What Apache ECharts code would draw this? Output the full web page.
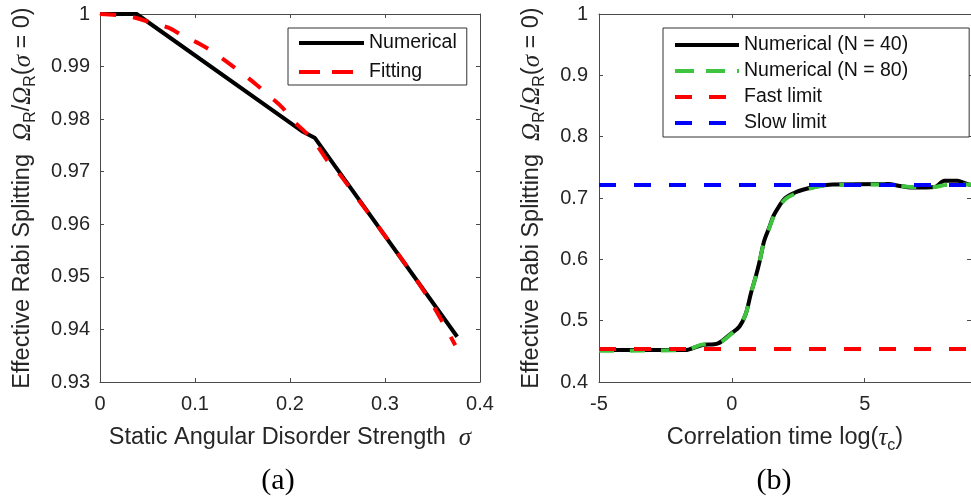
<!DOCTYPE html>
<html>
<head>
<meta charset="utf-8">
<script src="https://cdn.jsdelivr.net/npm/echarts@6/dist/echarts.min.js"></script>
<style>
  html, body { margin: 0; padding: 0; background: #ffffff; }
  #chart { width: 971px; height: 499px; }
</style>
</head>
<body>
<div id="chart"></div>
<script>
// ---- Panel (a): effective Rabi splitting vs static angular disorder ----
const sigmaNumerical = [0, 0.0385, 0.2137, 0.2263, 0.376];
const ratioNumerical = [1.0, 1.0, 0.9776, 0.9764, 0.9386];

const sigmaFitting = [0, 0.018, 0.037, 0.055, 0.072, 0.087, 0.105, 0.119, 0.135, 0.149, 0.165,
                      0.177, 0.192, 0.202, 0.217, 0.228, 0.239, 0.251, 0.274, 0.316, 0.347, 0.374];
const ratioFitting = [1.0, 0.9998, 0.9993, 0.9983, 0.9974, 0.9959, 0.9943, 0.9928, 0.9907, 0.9888, 0.9865,
                      0.9846, 0.9822, 0.9799, 0.9774, 0.9751, 0.9722, 0.9698, 0.9642, 0.9538, 0.9456, 0.9370];

const sigmaTicks = [0, 0.1, 0.2, 0.3, 0.4];
const ratioTicksA = [0.93, 0.94, 0.95, 0.96, 0.97, 0.98, 0.99, 1];

// ---- Panel (b): effective Rabi splitting vs correlation time ----
const logTau40 = [-5, -1.75, -1.14, -0.52, -0.03, 0.28, 0.53, 0.72, 0.9, 1.03, 1.21, 1.40, 1.58, 1.77,
                  2.01, 2.38, 2.81, 3.31, 3.8, 5.9, 6.27, 6.77, 7.63, 8.0, 8.49, 8.78, 9.0];
const ratio40 = [0.452, 0.452, 0.460, 0.463, 0.479, 0.490, 0.512, 0.545, 0.572, 0.594, 0.629, 0.651, 0.672, 0.686,
                 0.700, 0.709, 0.715, 0.720, 0.722, 0.723, 0.720, 0.717, 0.718, 0.728, 0.728, 0.724, 0.721];

const logTau80 = [-5, -1.75, -1.14, -0.52, -0.03, 0.28, 0.53, 0.72, 0.9, 1.03, 1.21, 1.40, 1.58, 1.77,
                  2.01, 2.38, 2.81, 3.31, 3.8, 5.9, 6.27, 6.77, 7.63, 8.0, 8.49, 8.78, 9.0];
const ratio80 = [0.451, 0.452, 0.461, 0.463, 0.478, 0.490, 0.512, 0.545, 0.572, 0.594, 0.628, 0.650, 0.671, 0.685,
                 0.698, 0.707, 0.714, 0.719, 0.721, 0.722, 0.720, 0.718, 0.718, 0.721, 0.722, 0.722, 0.722];

const fastLimit = 0.454;
const slowLimit = 0.721;
const logTauRange = [-5, 9];

const logTauTicks = [-5, 0, 5];
const ratioTicksB = [0.4, 0.5, 0.6, 0.7, 0.8, 0.9, 1];

// ---- styling ----
const SANS = "'Liberation Sans', Arial, Helvetica, sans-serif";
const SERIF = "'Liberation Serif', 'Times New Roman', serif";
const AXIS_COLOR = '#4a4a4a';
const TEXT_COLOR = '#262626';

const zip = (xs, ys) => xs.map((x, i) => [x, ys[i]]);

const nameRich = {
  om: { fontFamily: SERIF, fontStyle: 'italic', fontSize: 25, color: TEXT_COLOR },
  it: { fontFamily: SERIF, fontStyle: 'italic', fontSize: 25, color: TEXT_COLOR },
  sub: { fontFamily: SANS, fontSize: 16, color: TEXT_COLOR, padding: [16, 0, 0, 0] }
};

const nameStyle = {
  fontFamily: SANS, fontSize: 23.5, color: TEXT_COLOR, lineHeight: 30, rich: nameRich
};

function tickFormatter(decimals) {
  return v => String(+v.toFixed(decimals));
}

function mainAxis(opts) {
  return Object.assign({
    type: 'value',
    axisLine: { show: true, onZero: false, lineStyle: { color: AXIS_COLOR, width: 1 } },
    axisTick: { show: true, inside: true, length: 4, lineStyle: { color: AXIS_COLOR, width: 1 } },
    splitLine: { show: false },
    axisLabel: { color: TEXT_COLOR, fontSize: 20, fontFamily: SANS, margin: 10 },
    nameLocation: 'middle',
    nameTextStyle: nameStyle
  }, opts);
}

function mirrorAxis(opts) {
  return Object.assign({
    type: 'value',
    axisLine: { show: true, onZero: false, lineStyle: { color: AXIS_COLOR, width: 1 } },
    axisTick: { show: true, inside: true, length: 4, lineStyle: { color: AXIS_COLOR, width: 1 } },
    splitLine: { show: false },
    axisLabel: { show: false }
  }, opts);
}

const xA = { min: sigmaTicks[0], max: sigmaTicks[sigmaTicks.length - 1], interval: sigmaTicks[1] - sigmaTicks[0] };
const yA = { min: ratioTicksA[0], max: ratioTicksA[ratioTicksA.length - 1], interval: 0.01 };
const xB = { min: logTauRange[0], max: logTauRange[1], interval: logTauTicks[1] - logTauTicks[0] };
const yB = { min: ratioTicksB[0], max: ratioTicksB[ratioTicksB.length - 1], interval: 0.1 };

// legend icons are plain line samples, no marker in the middle
const hiddenMarker = { color: 'rgba(0,0,0,0)', borderWidth: 0, opacity: 0 };

const option = {
  animation: false,
  backgroundColor: '#ffffff',
  grid: [
    { left: 100, right: 491, top: 14, bottom: 117 },
    { left: 599, right: -6, top: 14, bottom: 117 }
  ],
  xAxis: [
    mainAxis(Object.assign({
      gridIndex: 0, position: 'bottom',
      name: 'Static Angular Disorder Strength  {it|σ}', nameGap: 41,
      axisLabel: { color: TEXT_COLOR, fontSize: 20, fontFamily: SANS, margin: 12, formatter: tickFormatter(1) }
    }, xA)),
    mirrorAxis(Object.assign({ gridIndex: 0, position: 'top' }, xA)),
    mainAxis(Object.assign({
      gridIndex: 1, position: 'bottom',
      name: 'Correlation time log({it|τ}{sub|c})', nameGap: 41,
      axisLabel: { color: TEXT_COLOR, fontSize: 20, fontFamily: SANS, margin: 12, showMaxLabel: false, formatter: tickFormatter(0) }
    }, xB)),
    mirrorAxis(Object.assign({ gridIndex: 1, position: 'top' }, xB))
  ],
  yAxis: [
    mainAxis(Object.assign({
      gridIndex: 0, position: 'left',
      name: 'Effective Rabi Splitting  {om|Ω}{sub|R}/{om|Ω}{sub|R}({it|σ} = 0)', nameGap: 62, nameRotate: 90,
      axisLabel: { color: TEXT_COLOR, fontSize: 20, fontFamily: SANS, margin: 10, formatter: tickFormatter(2) }
    }, yA)),
    mirrorAxis(Object.assign({ gridIndex: 0, position: 'right' }, yA)),
    mainAxis(Object.assign({
      gridIndex: 1, position: 'left',
      name: 'Effective Rabi Splitting  {om|Ω}{sub|R}/{om|Ω}{sub|R}({it|σ} = 0)', nameGap: 52, nameRotate: 90,
      axisLabel: { color: TEXT_COLOR, fontSize: 20, fontFamily: SANS, margin: 11, formatter: tickFormatter(1) }
    }, yB)),
    mirrorAxis(Object.assign({ gridIndex: 1, position: 'right' }, yB))
  ],
  legend: [
    {
      orient: 'vertical', left: 288, top: 28,
      itemWidth: 65, itemHeight: 20, itemGap: 9,
      padding: [5, 10, 3, 9],
      backgroundColor: '#ffffff', borderColor: '#333333', borderWidth: 1, borderRadius: 0,
      selectedMode: false,
      textStyle: { fontFamily: SANS, fontSize: 19.5, color: '#111111', lineHeight: 20 },
      itemStyle: hiddenMarker,
      lineStyle: { width: 4 },
      data: [
        { name: 'Numerical', itemStyle: hiddenMarker, lineStyle: { width: 4, type: 'solid' } },
        { name: 'Fitting', itemStyle: hiddenMarker, lineStyle: { width: 4, type: [21, 12] } }
      ]
    },
    {
      orient: 'vertical', left: 663, top: 28,
      itemWidth: 64, itemHeight: 20, itemGap: 6,
      padding: [7, 61, 4, 10],
      backgroundColor: '#ffffff', borderColor: '#333333', borderWidth: 1, borderRadius: 0,
      selectedMode: false,
      textStyle: { fontFamily: SANS, fontSize: 19.5, color: '#111111', lineHeight: 20 },
      itemStyle: hiddenMarker,
      lineStyle: { width: 4 },
      data: [
        { name: 'Numerical (N = 40)', itemStyle: hiddenMarker, lineStyle: { width: 4, type: 'solid' } },
        { name: 'Numerical (N = 80)', itemStyle: hiddenMarker, lineStyle: { width: 4, type: [19, 12] } },
        { name: 'Fast limit', itemStyle: hiddenMarker, lineStyle: { width: 4, type: [17, 17] } },
        { name: 'Slow limit', itemStyle: hiddenMarker, lineStyle: { width: 4, type: [17, 17] } }
      ]
    }
  ],
  series: [
    {
      name: 'Numerical', type: 'line', xAxisIndex: 0, yAxisIndex: 0,
      data: zip(sigmaNumerical, ratioNumerical), symbol: 'none', color: '#000000',
      lineStyle: { color: '#000000', width: 4 }, z: 2
    },
    {
      name: 'Fitting', type: 'line', xAxisIndex: 0, yAxisIndex: 0,
      data: zip(sigmaFitting, ratioFitting), symbol: 'none', smooth: 0.3, color: '#ff0000',
      lineStyle: { color: '#ff0000', width: 4, type: [16, 17] }, z: 3
    },
    {
      name: 'Numerical (N = 40)', type: 'line', xAxisIndex: 2, yAxisIndex: 2,
      data: zip(logTau40, ratio40), symbol: 'none', smooth: 0.3, color: '#000000',
      lineStyle: { color: '#000000', width: 4 }, z: 2
    },
    {
      name: 'Numerical (N = 80)', type: 'line', xAxisIndex: 2, yAxisIndex: 2,
      data: zip(logTau80, ratio80), symbol: 'none', smooth: 0.3, color: '#3ec43e',
      lineStyle: { color: '#3ec43e', width: 4, type: [15, 16] }, z: 3
    },
    {
      name: 'Fast limit', type: 'line', xAxisIndex: 2, yAxisIndex: 2,
      data: logTauRange.map(x => [x, fastLimit]), symbol: 'none', color: '#ff0000',
      lineStyle: { color: '#ff0000', width: 4, type: [17, 18] }, z: 4
    },
    {
      name: 'Slow limit', type: 'line', xAxisIndex: 2, yAxisIndex: 2,
      data: logTauRange.map(x => [x, slowLimit]), symbol: 'none', color: '#0000ff',
      lineStyle: { color: '#0000ff', width: 4, type: [17, 18] }, z: 5
    }
  ],
  graphic: [
    {
      type: 'text', x: 278, y: 481,
      style: { text: '(a)', font: "30px 'Liberation Serif'", fill: '#000000',
               align: 'center', verticalAlign: 'middle', textAlign: 'center', textVerticalAlign: 'middle' }
    },
    {
      type: 'text', x: 774, y: 481,
      style: { text: '(b)', font: "30px 'Liberation Serif'", fill: '#000000',
               align: 'center', verticalAlign: 'middle', textAlign: 'center', textVerticalAlign: 'middle' }
    }
  ]
};

const chart = echarts.init(document.getElementById('chart'), null, { renderer: 'canvas' });
chart.setOption(option);
</script>
</body>
</html>
